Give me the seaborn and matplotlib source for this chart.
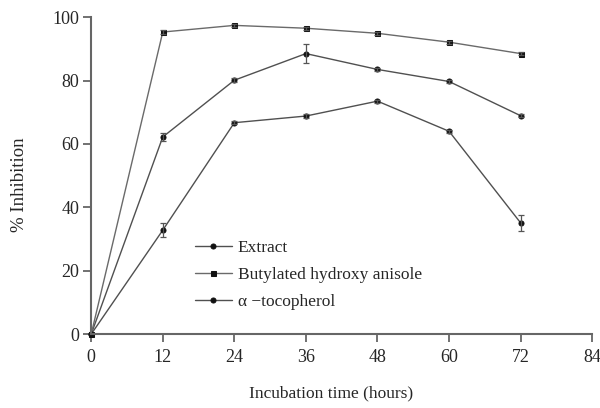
import matplotlib
matplotlib.use("Agg")
import matplotlib.pyplot as plt
import seaborn as sns
import pandas as pd

hours = [0, 12, 24, 36, 48, 60, 72]
extract = [0, 62.2, 80.1, 88.5, 83.5, 79.7, 68.9]
extract_err = [0, 1.2, 0.6, 3.0, 0.5, 0.5, 0.5]
bha = [0, 95.3, 97.4, 96.5, 94.9, 92.1, 88.5]
bha_err = [0, 0.5, 0.5, 0.5, 0.5, 0.5, 0.5]
toco = [0, 32.8, 66.7, 68.8, 73.5, 64.0, 35.1]
toco_err = [0, 2.3, 0.5, 0.5, 0.5, 0.5, 2.6]
series_names = ["Extract", "Butylated hydroxy anisole", "\u03b1 \u2212tocopherol"]
xticks = [0, 12, 24, 36, 48, 60, 72, 84]
yticks = [0, 20, 40, 60, 80, 100]

sns.set_style("ticks")
plt.rcParams['font.family'] = ['Liberation Serif', 'DejaVu Serif']

df = pd.DataFrame({
    "hours": hours * 3,
    "value": extract + bha + toco,
    "series": [series_names[0]] * 7 + [series_names[1]] * 7 + [series_names[2]] * 7,
})

fig = plt.figure(figsize=(6, 4.08), dpi=100)
ax = fig.add_axes([0.152, 0.181, 0.835, 0.777])

line_col = "#505050"
sns.lineplot(data=df, x="hours", y="value", hue="series", style="series",
             markers={series_names[0]: "o", series_names[1]: "s", series_names[2]: "o"},
             dashes=False, palette=[line_col, "#6a6a6a", line_col],
             markersize=3.6, linewidth=1.0, markeredgecolor="#111111",
             markerfacecolor="#111111",
             ax=ax, legend=True)
for ln in ax.lines:
    ln.set_clip_on(False)
for vals, errs in [(extract, extract_err), (bha, bha_err), (toco, toco_err)]:
    ax.errorbar(hours, vals, yerr=errs, fmt="none", ecolor="#555555",
                elinewidth=0.9, capsize=2.5, capthick=0.9)

ax.set_xlim(0, 84)
ax.set_ylim(0, 100)
ax.set_xticks(xticks)
ax.set_yticks(yticks)
ax.tick_params(axis="both", labelsize=13, direction="out", length=6,
               width=1.3, color="#666666", pad=2.5)
ax.tick_params(axis="x", pad=5)
for s in ["top", "right"]:
    ax.spines[s].set_visible(False)
for s in ["left", "bottom"]:
    ax.spines[s].set_color("#666666")
    ax.spines[s].set_linewidth(1.5)
ax.set_xlabel("Incubation time (hours)", fontsize=12.5)
ax.xaxis.set_label_coords(0.479, -0.163)
ax.set_ylabel("% Inhibition", fontsize=13.5)
ax.yaxis.set_label_coords(-0.127, 0.473)

leg = ax.legend(loc="upper left", bbox_to_anchor=(0.2076, 0.298), frameon=False,
                fontsize=12.5, handlelength=2.1, labelspacing=0.62, handletextpad=0.35,
                borderaxespad=0, borderpad=0)

fig.savefig("out.png", dpi=100)
